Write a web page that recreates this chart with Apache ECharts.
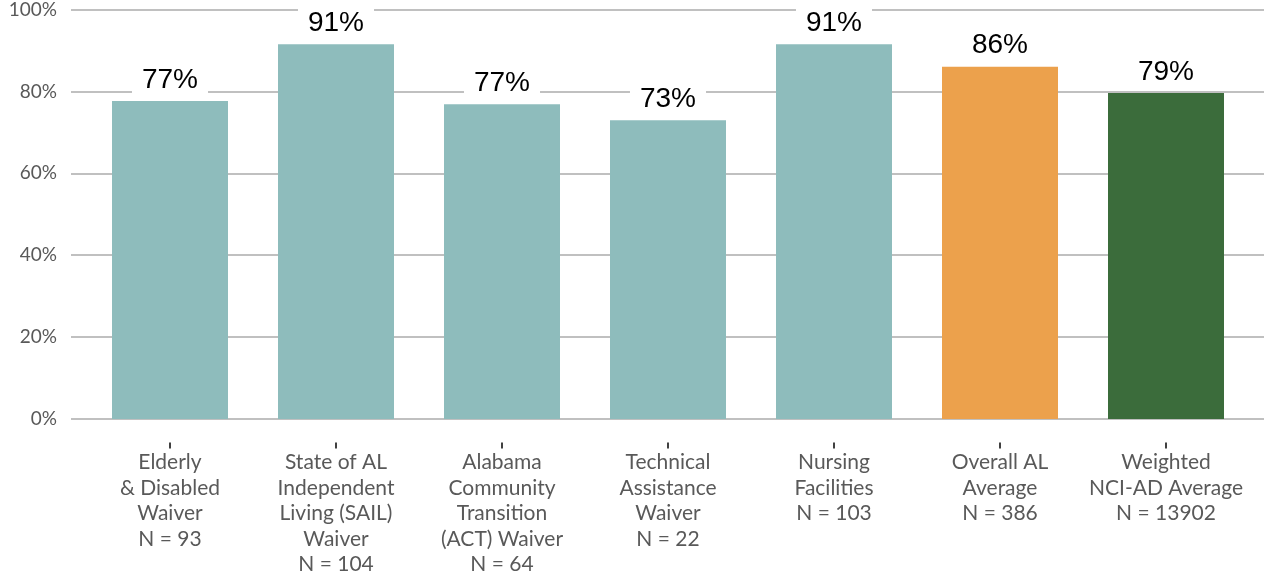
<!DOCTYPE html>
<html>
<head>
<meta charset="utf-8">
<script src="https://cdn.jsdelivr.net/npm/echarts@6/dist/echarts.min.js"></script>
<style>
html,body{margin:0;padding:0;background:#fff;}
#chart{width:1264px;height:577px;}
</style>
</head>
<body>
<div id="chart"></div>
<script>
const categories = [
  "Elderly\n& Disabled\nWaiver\nN = 93",
  "State of AL\nIndependent\nLiving (SAIL)\nWaiver\nN = 104",
  "Alabama\nCommunity\nTransition\n(ACT) Waiver\nN = 64",
  "Technical\nAssistance\nWaiver\nN = 22",
  "Nursing\nFacilities\nN = 103",
  "Overall AL\nAverage\nN = 386",
  "Weighted\nNCI-AD Average\nN = 13902"
];
const values = [77.4, 91.2, 76.6, 72.7, 91.2, 85.7, 79.3];
const barColors = ["#8EBCBC", "#8EBCBC", "#8EBCBC", "#8EBCBC", "#8EBCBC", "#ECA14C", "#3B6C3B"];
const yTicks = [0, 20, 40, 60, 80, 100];

const chart = echarts.init(document.getElementById('chart'));
const option = {
  animation: false,
  backgroundColor: '#ffffff',
  grid: [
    {left: 71, right: 0, top: 8, bottom: 158, containLabel: false},
    {left: 87, right: 15, top: 8, bottom: 158, containLabel: false},
    {left: 87, right: 15, top: 420, bottom: 134, containLabel: false}
  ],
  xAxis: [
    {gridIndex: 0, type: 'value', show: false, min: 0, max: 1},
    {gridIndex: 1, type: 'category', data: categories, boundaryGap: true, show: false},
    {
      gridIndex: 2, type: 'category', data: categories, boundaryGap: true,
      axisLine: {show: false},
      axisTick: {show: true, alignWithLabel: true, interval: 0, length: 6, lineStyle: {color: '#404040', width: 2}},
      axisLabel: {interval: 0, margin: 7, color: '#595959', fontFamily: 'Lato', fontSize: 21, lineHeight: 25.5, align: 'center'}
    }
  ],
  yAxis: [
    {
      gridIndex: 0, type: 'value', min: yTicks[0], max: yTicks[yTicks.length - 1], interval: 20,
      axisLine: {show: false}, axisTick: {show: false},
      axisLabel: {formatter: '{value}%', color: '#595959', fontFamily: 'Lato', fontSize: 19, margin: 14},
      splitLine: {show: true, lineStyle: {color: '#C0C0C0', width: 2}}
    },
    {gridIndex: 1, type: 'value', min: 0, max: 100, show: false},
    {gridIndex: 2, type: 'value', min: 0, max: 1, show: false}
  ],
  series: [{
    type: 'bar',
    xAxisIndex: 1, yAxisIndex: 1,
    barWidth: 116,
    data: values.map((v, i) => ({value: v, itemStyle: {color: barColors[i]}})),
    label: {
      show: true, position: 'top', distance: 5,
      formatter: p => Math.round(p.value) + '%',
      fontFamily: 'Liberation Sans', fontSize: 28, lineHeight: 28, color: '#000',
      backgroundColor: '#ffffff', padding: [5, 10, 2, 10]
    }
  }]
};
chart.setOption(option);
</script>
</body>
</html>
